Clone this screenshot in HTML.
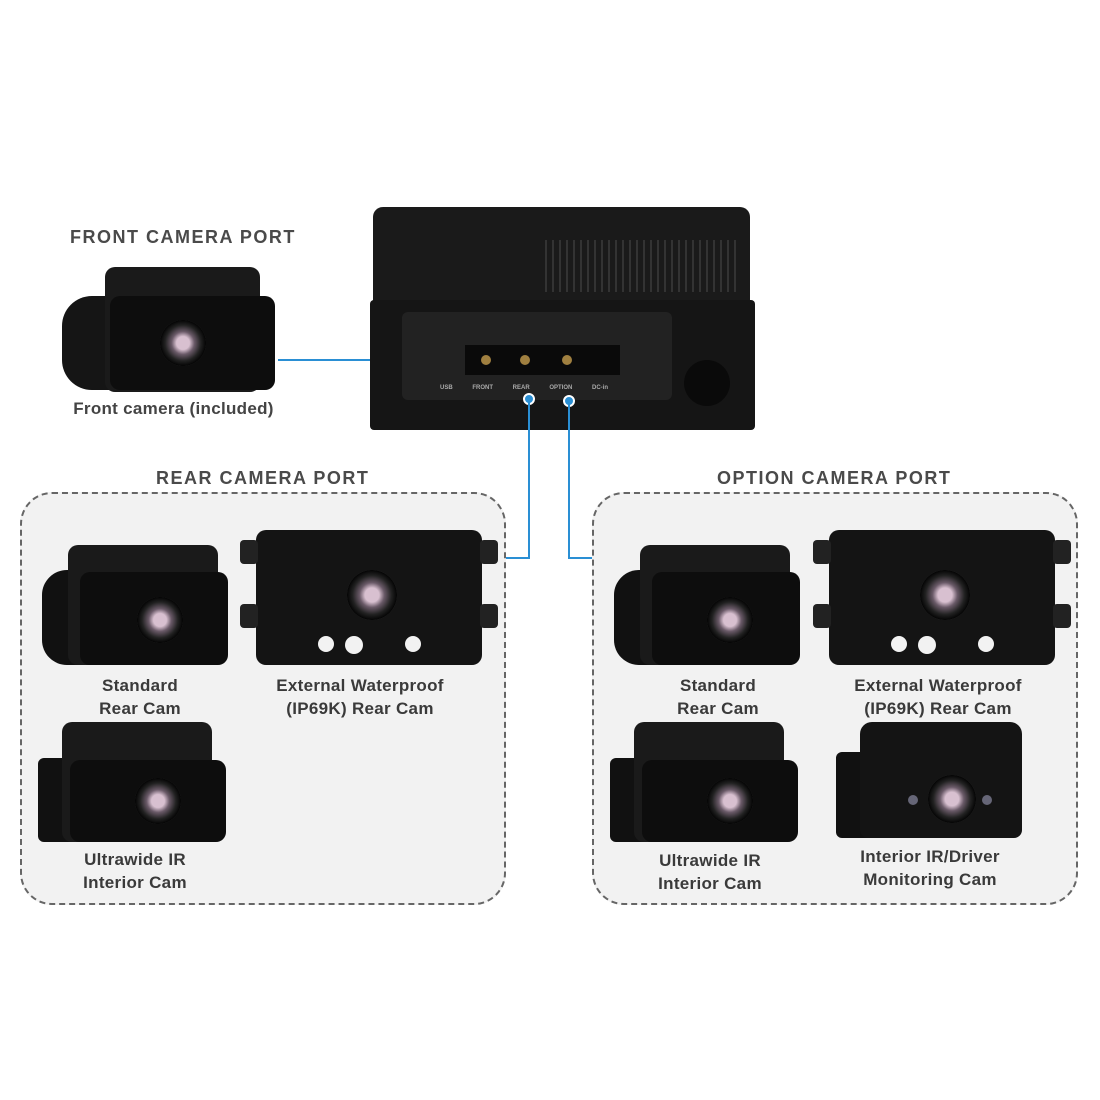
<!DOCTYPE html>
<html><head><meta charset="utf-8"><style>
*{margin:0;padding:0;box-sizing:border-box}
body{width:1100px;height:1100px;background:#fff;position:relative;overflow:hidden;font-family:"Liberation Sans",sans-serif}
.a{position:absolute}
.t{position:absolute;font-weight:bold;color:#4a4a4a;font-size:18px;letter-spacing:1.5px}
.l{position:absolute;color:#3a3a3a;font-size:17px;text-align:center;line-height:23px;font-weight:bold;letter-spacing:.3px}
.grp{position:absolute;border:2px dashed #666;border-radius:32px;background:#f2f2f2}
.dk{background:#111;border-radius:10px}
.lens{position:absolute;border-radius:50%;background:radial-gradient(circle,#d8c0d0 0 20%,#6a5a68 35%,#222 55%,#050505 70%,#2a2a2a 71%,#111 100%)}
.bl{position:absolute;background:#2a8fd4}
.ir{position:absolute;width:10px;height:10px;border-radius:50%;background:#333}
</style></head><body>

<div class="t" style="left:70px;top:227px">FRONT CAMERA PORT</div>
<div class="a dk" style="left:62px;top:296px;width:60px;height:94px;border-radius:30px 6px 6px 30px;background:#151515"></div>
<div class="a dk" style="left:105px;top:267px;width:155px;height:125px;background:#1a1a1a"></div>
<div class="a dk" style="left:110px;top:296px;width:165px;height:94px;background:#0d0d0d"></div>
<div class="lens" style="left:160px;top:320px;width:46px;height:46px"></div>
<div class="l" style="left:66px;top:397px;width:215px;color:#444">Front camera (included)</div>

<div class="bl" style="left:278px;top:359px;width:198px;height:2px"></div>
<div class="a" style="left:472px;top:354px;width:11px;height:11px;border-radius:50%;background:#2a8fd4;border:2px solid #fff"></div>

<div class="a" style="left:373px;top:207px;width:377px;height:95px;background:#1a1a1a;border-radius:10px 10px 0 0"></div>
<div class="a" style="left:540px;top:240px;width:200px;height:52px;background:repeating-linear-gradient(90deg,#1a1a1a 0 5px,#333 5px 7px)"></div>
<div class="a" style="left:370px;top:300px;width:385px;height:130px;background:#151515;border-radius:4px"></div>
<div class="a" style="left:402px;top:312px;width:270px;height:88px;background:#222;border-radius:6px"></div>
<div class="a" style="left:465px;top:345px;width:155px;height:30px;background:#0a0a0a"></div>
<div class="a" style="left:684px;top:360px;width:46px;height:46px;border-radius:50%;background:#0a0a0a"></div>
<div class="a" style="left:440px;top:385px;width:200px;font-size:6px;color:#aaa;white-space:nowrap;word-spacing:18px;font-weight:bold">USB FRONT REAR OPTION DC-in</div>
<div class="ir" style="left:481px;top:355px;background:#a08040"></div>
<div class="ir" style="left:520px;top:355px;background:#a08040"></div>
<div class="ir" style="left:562px;top:355px;background:#a08040"></div>

<div class="a" style="left:523px;top:393px;width:12px;height:12px;border-radius:50%;background:#2a8fd4;border:2px solid #fff"></div>
<div class="a" style="left:563px;top:395px;width:12px;height:12px;border-radius:50%;background:#2a8fd4;border:2px solid #fff"></div>
<div class="bl" style="left:528px;top:402px;width:2px;height:157px"></div>
<div class="bl" style="left:506px;top:557px;width:24px;height:2px"></div>
<div class="bl" style="left:568px;top:404px;width:2px;height:155px"></div>
<div class="bl" style="left:568px;top:557px;width:26px;height:2px"></div>

<div class="t" style="left:156px;top:468px">REAR CAMERA PORT</div>
<div class="t" style="left:717px;top:468px">OPTION CAMERA PORT</div>
<div class="grp" style="left:20px;top:492px;width:486px;height:413px"></div>
<div class="grp" style="left:592px;top:492px;width:486px;height:413px"></div>

<div class="a dk" style="left:42px;top:570px;width:50px;height:95px;border-radius:25px 4px 4px 25px"></div>
<div class="a dk" style="left:68px;top:545px;width:150px;height:120px;background:#1a1a1a"></div>
<div class="a dk" style="left:80px;top:572px;width:148px;height:93px;background:#0d0d0d"></div>
<div class="lens" style="left:137px;top:597px;width:46px;height:46px"></div>
<div class="l" style="left:60px;top:674px;width:160px">Standard<br>Rear Cam</div>

<div class="a dk" style="left:256px;top:530px;width:226px;height:135px;background:#141414"></div>
<div class="a" style="left:240px;top:540px;width:18px;height:24px;background:#222;border-radius:4px"></div>
<div class="a" style="left:240px;top:604px;width:18px;height:24px;background:#222;border-radius:4px"></div>
<div class="a" style="left:480px;top:540px;width:18px;height:24px;background:#222;border-radius:4px"></div>
<div class="a" style="left:480px;top:604px;width:18px;height:24px;background:#222;border-radius:4px"></div>
<div class="lens" style="left:347px;top:570px;width:50px;height:50px"></div>
<div class="a" style="left:318px;top:636px;width:16px;height:16px;border-radius:50%;background:#f2f2f2"></div>
<div class="a" style="left:345px;top:636px;width:18px;height:18px;border-radius:50%;background:#f2f2f2"></div>
<div class="a" style="left:405px;top:636px;width:16px;height:16px;border-radius:50%;background:#f2f2f2"></div>
<div class="l" style="left:250px;top:674px;width:220px">External Waterproof<br>(IP69K) Rear Cam</div>

<div class="a dk" style="left:38px;top:758px;width:40px;height:84px;border-radius:6px"></div>
<div class="a dk" style="left:62px;top:722px;width:150px;height:120px;background:#1a1a1a"></div>
<div class="a dk" style="left:70px;top:760px;width:156px;height:82px;background:#0d0d0d"></div>
<div class="lens" style="left:135px;top:778px;width:46px;height:46px"></div>
<div class="l" style="left:55px;top:848px;width:160px">Ultrawide IR<br>Interior Cam</div>

<div class="a dk" style="left:614px;top:570px;width:50px;height:95px;border-radius:25px 4px 4px 25px"></div>
<div class="a dk" style="left:640px;top:545px;width:150px;height:120px;background:#1a1a1a"></div>
<div class="a dk" style="left:652px;top:572px;width:148px;height:93px;background:#0d0d0d"></div>
<div class="lens" style="left:707px;top:597px;width:46px;height:46px"></div>
<div class="l" style="left:638px;top:674px;width:160px">Standard<br>Rear Cam</div>

<div class="a dk" style="left:829px;top:530px;width:226px;height:135px;background:#141414"></div>
<div class="a" style="left:813px;top:540px;width:18px;height:24px;background:#222;border-radius:4px"></div>
<div class="a" style="left:813px;top:604px;width:18px;height:24px;background:#222;border-radius:4px"></div>
<div class="a" style="left:1053px;top:540px;width:18px;height:24px;background:#222;border-radius:4px"></div>
<div class="a" style="left:1053px;top:604px;width:18px;height:24px;background:#222;border-radius:4px"></div>
<div class="lens" style="left:920px;top:570px;width:50px;height:50px"></div>
<div class="a" style="left:891px;top:636px;width:16px;height:16px;border-radius:50%;background:#f2f2f2"></div>
<div class="a" style="left:918px;top:636px;width:18px;height:18px;border-radius:50%;background:#f2f2f2"></div>
<div class="a" style="left:978px;top:636px;width:16px;height:16px;border-radius:50%;background:#f2f2f2"></div>
<div class="l" style="left:828px;top:674px;width:220px">External Waterproof<br>(IP69K) Rear Cam</div>

<div class="a dk" style="left:610px;top:758px;width:40px;height:84px;border-radius:6px"></div>
<div class="a dk" style="left:634px;top:722px;width:150px;height:120px;background:#1a1a1a"></div>
<div class="a dk" style="left:642px;top:760px;width:156px;height:82px;background:#0d0d0d"></div>
<div class="lens" style="left:707px;top:778px;width:46px;height:46px"></div>
<div class="l" style="left:630px;top:849px;width:160px">Ultrawide IR<br>Interior Cam</div>

<div class="a dk" style="left:836px;top:752px;width:40px;height:86px;border-radius:6px"></div>
<div class="a dk" style="left:860px;top:722px;width:162px;height:116px;background:#141414;border-radius:12px 12px 8px 8px"></div>
<div class="lens" style="left:928px;top:775px;width:48px;height:48px"></div>
<div class="ir" style="left:908px;top:795px;background:#667"></div>
<div class="ir" style="left:982px;top:795px;background:#667"></div>
<div class="l" style="left:850px;top:845px;width:160px">Interior IR/Driver<br>Monitoring Cam</div>

</body></html>
